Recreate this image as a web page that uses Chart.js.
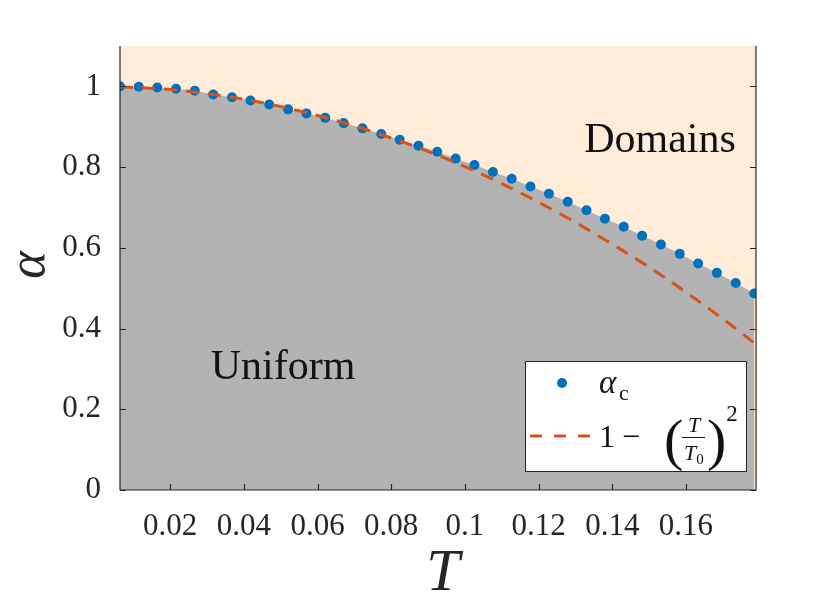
<!DOCTYPE html>
<html>
<head>
<meta charset="utf-8">
<script src="https://cdn.jsdelivr.net/npm/chart.js@4.4.0/dist/chart.umd.min.js"></script>
<style>
  html, body { margin: 0; padding: 0; background: #fff; }
</style>
</head>
<body>
<canvas id="phase_chart" width="837" height="609"></canvas>
<script>
// critical alpha
var temps = [0.0064, 0.0115, 0.0165, 0.0216, 0.0267, 0.0317, 0.0368, 0.0418, 0.0469, 0.0520,
             0.0570, 0.0621, 0.0671, 0.0722, 0.0773, 0.0823, 0.0874, 0.0925, 0.0975, 0.1026,
             0.1076, 0.1127, 0.1178, 0.1228, 0.1279, 0.1330, 0.1380, 0.1431, 0.1481, 0.1532,
             0.1583, 0.1633, 0.1684, 0.1735, 0.1785];
var alpha_c = [1.000, 0.999, 0.997, 0.994, 0.989, 0.980, 0.973, 0.965, 0.955, 0.943,
               0.933, 0.922, 0.909, 0.896, 0.882, 0.868, 0.853, 0.838, 0.821, 0.805,
               0.788, 0.771, 0.752, 0.734, 0.714, 0.693, 0.672, 0.652, 0.630, 0.608,
               0.585, 0.561, 0.538, 0.513, 0.487];
// dashed fit curve, read at a few temperatures
var fit_temps = [0.0064, 0.02, 0.03, 0.04, 0.05, 0.06, 0.07, 0.08, 0.09, 0.10,
                 0.11, 0.12, 0.13, 0.14, 0.15, 0.16, 0.17, 0.179];
var fit_alpha = [0.999, 0.992, 0.982, 0.968, 0.950, 0.928, 0.902, 0.872, 0.839, 0.801,
                 0.759, 0.713, 0.663, 0.609, 0.552, 0.490, 0.424, 0.361];
var x_ticks = [0.02, 0.04, 0.06, 0.08, 0.1, 0.12, 0.14, 0.16];
var y_ticks = [0, 0.2, 0.4, 0.6, 0.8, 1];
var x_range = [0.0064, 0.179];
var y_range = [0, 1.1];

var blue = '#0072BD';
var orange = '#D95319';
var axis_col = '#262626';
var serif = '"Liberation Serif", "DejaVu Serif", serif';

function pts(xs, ys) {
  var out = [];
  for (var i = 0; i < xs.length; i++) out.push({x: xs[i], y: ys[i]});
  return out;
}

var extras = {
  id: 'extras',
  beforeDraw: function(chart) {
    var a = chart.chartArea, ctx = chart.ctx;
    ctx.save();
    ctx.fillStyle = '#ffedd9';
    ctx.fillRect(a.left, a.top, a.right - a.left, a.bottom - a.top);
    ctx.restore();
  },
  afterDraw: function(chart) {
    var a = chart.chartArea, ctx = chart.ctx;
    var xs = chart.scales.x, ys = chart.scales.y;
    ctx.save();
    // frame (left, bottom, right)
    ctx.strokeStyle = axis_col;
    ctx.lineWidth = 1.2;
    ctx.beginPath();
    ctx.moveTo(a.left, a.top); ctx.lineTo(a.left, a.bottom);
    ctx.lineTo(a.right, a.bottom); ctx.lineTo(a.right, a.top);
    ctx.stroke();
    // inward ticks
    ctx.beginPath();
    x_ticks.forEach(function(v) {
      var px = Math.round(xs.getPixelForValue(v)) + 0.5;
      ctx.moveTo(px, a.bottom); ctx.lineTo(px, a.bottom - 6);
    });
    y_ticks.forEach(function(v) {
      var py = Math.round(ys.getPixelForValue(v)) + 0.5;
      ctx.moveTo(a.left, py); ctx.lineTo(a.left + 6, py);
      ctx.moveTo(a.right, py); ctx.lineTo(a.right - 6, py);
    });
    ctx.stroke();

    // region labels
    ctx.fillStyle = '#111';
    ctx.textAlign = 'center';
    ctx.textBaseline = 'alphabetic';
    ctx.font = '42px ' + serif;
    ctx.fillText('Domains', 660, 152);
    ctx.fillText('Uniform', 283, 379);

    // axis titles
    ctx.fillStyle = axis_col;
    ctx.font = 'italic 60px ' + serif;
    ctx.fillText('T', 443, 590);
    ctx.save();
    ctx.translate(44, 265);
    ctx.rotate(-Math.PI / 2);
    ctx.font = 'italic 52px ' + serif;
    ctx.textBaseline = 'alphabetic';
    ctx.fillText('\u03b1', 0, 0);
    ctx.restore();

    // legend box
    ctx.fillStyle = '#fff';
    ctx.fillRect(525.5, 361.5, 221, 110);
    ctx.strokeStyle = axis_col;
    ctx.lineWidth = 1;
    ctx.strokeRect(525.5, 361.5, 221, 110);

    ctx.fillStyle = blue;
    ctx.beginPath();
    ctx.arc(562, 383, 5, 0, Math.PI * 2);
    ctx.fill();

    ctx.fillStyle = '#111';
    ctx.textAlign = 'left';
    ctx.font = 'italic 33px ' + serif;
    ctx.fillText('\u03b1', 599, 393);
    ctx.font = '22px ' + serif;
    ctx.fillText('c', 619, 400);

    ctx.strokeStyle = orange;
    ctx.lineWidth = 3;
    ctx.setLineDash([12, 12]);
    ctx.beginPath();
    ctx.moveTo(530, 436); ctx.lineTo(592, 436);
    ctx.stroke();
    ctx.setLineDash([]);

    ctx.fillStyle = '#111';
    ctx.font = '32px ' + serif;
    ctx.fillText('1', 599, 447);
    ctx.fillText('\u2212', 622, 447);
    ctx.font = '58px ' + serif;
    ctx.fillText('(', 664, 459);
    ctx.fillText(')', 707, 459);
    ctx.textAlign = 'center';
    ctx.font = 'italic 22px ' + serif;
    ctx.fillText('T', 694, 432);
    ctx.fillText('T', 690, 460);
    ctx.font = '15px ' + serif;
    ctx.fillText('0', 700, 464);
    ctx.strokeStyle = '#111';
    ctx.lineWidth = 1;
    ctx.beginPath();
    ctx.moveTo(682, 437.5); ctx.lineTo(705, 437.5);
    ctx.stroke();
    ctx.font = '23px ' + serif;
    ctx.fillText('2', 732, 421);
    ctx.restore();
  }
};

var phaseChart = new Chart(document.getElementById('phase_chart'), {
  type: 'line',
  data: {
    datasets: [{
      label: 'fit',
      data: pts(fit_temps, fit_alpha),
      borderColor: orange,
      borderWidth: 3,
      borderDash: [13, 9],
      pointRadius: 0,
      cubicInterpolationMode: 'monotone',
      fill: false
    }, {
      label: 'alpha_c',
      data: pts(temps, alpha_c),
      showLine: false,
      pointRadius: 5,
      pointBackgroundColor: blue,
      pointBorderWidth: 0,
      fill: false
    }, {
      label: 'uniform region',
      data: pts(temps, alpha_c),
      borderWidth: 0,
      pointRadius: 0,
      backgroundColor: '#b3b3b3',
      fill: 'origin'
    }]
  },
  options: {
    responsive: false,
    animation: false,
    devicePixelRatio: 1,
    layout: { padding: { top: 46, right: 81, left: 0, bottom: 0 } },
    plugins: {
      legend: { display: false },
      tooltip: { enabled: false }
    },
    scales: {
      x: {
        type: 'linear',
        min: x_range[0],
        max: x_range[1],
        grid: { display: false },
        border: { display: false },
        afterBuildTicks: function(scale) {
          scale.ticks = x_ticks.map(function(v) { return {value: v}; });
        },
        afterFit: function(scale) { scale.height = 119; },
        ticks: {
          padding: 10,
          color: axis_col,
          font: { family: serif, size: 31 },
          callback: function(v) { return String(v); }
        }
      },
      y: {
        type: 'linear',
        min: y_range[0],
        max: y_range[1],
        grid: { display: false },
        border: { display: false },
        afterBuildTicks: function(scale) {
          scale.ticks = y_ticks.map(function(v) { return {value: v}; });
        },
        afterFit: function(scale) { scale.width = 120; },
        ticks: {
          padding: 11,
          color: axis_col,
          font: { family: serif, size: 31 },
          callback: function(v) { return String(v); }
        }
      }
    }
  },
  plugins: [extras]
});
</script>
</body>
</html>
